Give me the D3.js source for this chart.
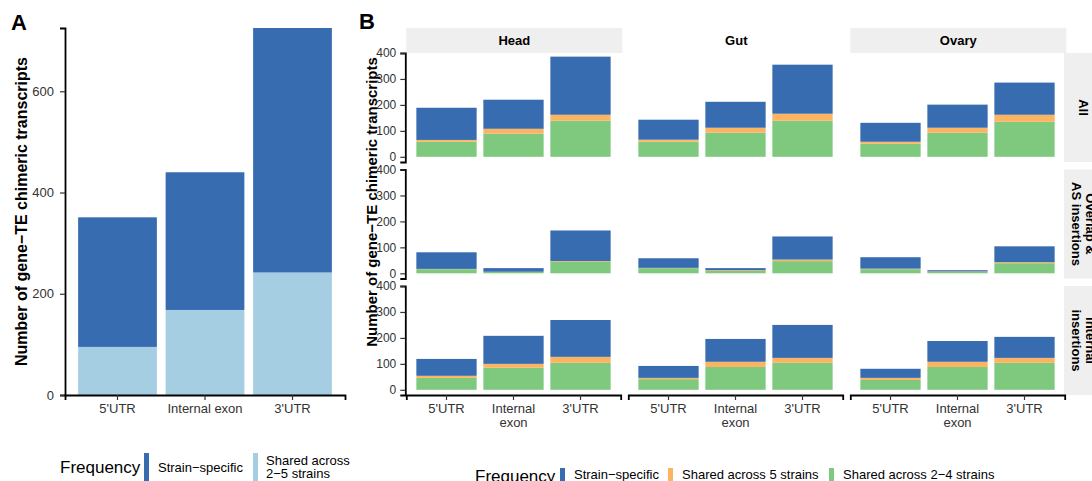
<!DOCTYPE html>
<html>
<head>
<meta charset="utf-8">
<script src="https://cdn.jsdelivr.net/npm/d3@7"></script>
<style>
  body { margin: 0; background: #fff; }
  svg { font-family: "Liberation Sans", Arial, sans-serif; }
</style>
</head>
<body>
<svg id="chart" width="1092" height="481"></svg>
<script>
// categories
const regions = ["5'UTR", "Internal exon", "3'UTR"];
const tissues = ["Head", "Gut", "Ovary"];
const insertionTypes = ["All", "Overlap &\nAS insertions", "Internal\ninsertions"];
const yTicksA = [0, 200, 400, 600];
const yTicksB = [0, 100, 200, 300, 400];

// panel A values (per region)
const aStrainSpecific = [256, 272, 483];
const aShared = [95, 168, 242];

// panel B values: [insertion type][tissue][region]
const bStrainSpecific = [
  [[124, 112, 224], [77, 100, 189], [73, 89, 124]],
  [[64, 14, 118], [37, 8, 89], [44, 5, 61]],
  [[65, 108, 142], [46, 88, 127], [35, 80, 81]]
];
const bShared5 = [
  [[7, 19, 23], [8, 19, 27], [8, 19, 27]],
  [[1, 1, 3], [1, 3, 6], [2, 2, 4]],
  [[8, 15, 23], [5, 20, 19], [8, 20, 19]]
];
const bShared24 = [
  [[58, 89, 139], [58, 93, 139], [50, 93, 135]],
  [[16, 5, 44], [20, 9, 47], [16, 5, 39]],
  [[46, 85, 104], [41, 88, 104], [38, 88, 104]]
];

const colA = { strain: "#386CB0", shared: "#A6CEE3" };
const colB = { strain: "#386CB0", shared5: "#FDB462", shared24: "#7FC97F" };

const svg = d3.select("#chart");

function styleAxis(size) {
  return g => {
    g.selectAll(".domain").attr("stroke", "#000").attr("stroke-width", 1.8);
    g.selectAll(".tick line").attr("stroke", "#333").attr("stroke-width", 1.2);
    g.selectAll(".tick text").attr("fill", "#333").style("font-size", size + "px");
  };
}

// ---------- Panel A ----------
const xA = d3.scaleBand().domain(regions).range([65, 345]).paddingInner(0.1).paddingOuter(0.15);
const yA = d3.scaleLinear().domain([0, 725]).range([395, 28]);

const stackA = d3.stack().keys(["shared", "strain"])(
  regions.map((r, i) => ({ region: r, shared: aShared[i], strain: aStrainSpecific[i] }))
);

svg.append("g").selectAll("g")
  .data(stackA)
  .join("g")
  .attr("fill", d => colA[d.key])
  .selectAll("rect")
  .data(d => d)
  .join("rect")
  .attr("x", d => xA(d.data.region))
  .attr("width", xA.bandwidth())
  .attr("y", d => yA(d[1]))
  .attr("height", d => yA(d[0]) - yA(d[1]));

svg.append("g")
  .attr("transform", "translate(65,0)")
  .call(d3.axisLeft(yA).tickValues(yTicksA).tickSizeOuter(0).tickSize(5).tickPadding(6))
  .call(styleAxis(13));

svg.append("g")
  .attr("transform", "translate(0,395)")
  .call(d3.axisBottom(xA).tickSizeOuter(0).tickSize(5).tickPadding(4))
  .call(styleAxis(13));

svg.append("text")
  .attr("transform", "translate(27,211.5) rotate(-90)")
  .attr("text-anchor", "middle")
  .style("font-size", "16px").style("font-weight", "bold")
  .text("Number of gene\u2212TE chimeric transcripts");

svg.append("text").attr("x", 11).attr("y", 30)
  .style("font-size", "22px").style("font-weight", "bold").text("A");

// legend A
svg.append("text").attr("x", 60).attr("y", 473).style("font-size", "17px").text("Frequency");
svg.append("rect").attr("x", 144).attr("y", 453).attr("width", 5).attr("height", 30).attr("fill", colA.strain);
svg.append("text").attr("x", 158).attr("y", 472).style("font-size", "13px").text("Strain\u2212specific");
svg.append("rect").attr("x", 253).attr("y", 453).attr("width", 5).attr("height", 30).attr("fill", colA.shared);
svg.append("text").attr("x", 266).attr("y", 465).style("font-size", "13px").text("Shared across");
svg.append("text").attr("x", 266).attr("y", 478).style("font-size", "13px").text("2\u22125 strains");

// ---------- Panel B ----------
const colX0 = [406.3, 628.3, 850.3];
const panelW = 214.4;
const rowTop = [53, 169.5, 286];
const panelH = 109;

svg.append("text").attr("x", 359).attr("y", 29)
  .style("font-size", "22px").style("font-weight", "bold").text("B");

// top strips
tissues.forEach((t, c) => {
  if (t !== "Gut") {
    svg.append("rect").attr("x", colX0[c]).attr("y", 28).attr("width", 216).attr("height", 25)
      .attr("fill", "#EFEFEF");
  }
  svg.append("text").attr("x", colX0[c] + 108).attr("y", 45)
    .attr("text-anchor", "middle")
    .style("font-size", "13px").style("font-weight", "bold").text(t);
});

// right strips
insertionTypes.forEach((lab, r) => {
  svg.append("rect").attr("x", 1064).attr("y", rowTop[r]).attr("width", 40).attr("height", panelH)
    .attr("fill", "#EFEFEF");
  const lines = lab.split("\n");
  const g = svg.append("g")
    .attr("transform", `translate(1083,${rowTop[r] + panelH / 2}) rotate(90)`);
  lines.forEach((ln, i) => {
    g.append("text")
      .attr("x", 0)
      .attr("y", (i - (lines.length - 1) / 2) * 14)
      .attr("text-anchor", "middle")
      .attr("dominant-baseline", "central")
      .style("font-size", "13px").style("font-weight", "bold")
      .text(ln);
  });
});

insertionTypes.forEach((_, r) => {
  const y = d3.scaleLinear().domain([-20, 400]).range([rowTop[r] + panelH, rowTop[r]]);
  tissues.forEach((_, c) => {
    const x = d3.scaleBand().domain(regions).range([colX0[c], colX0[c] + panelW])
      .paddingInner(0.1).paddingOuter(0.15);
    const rows = regions.map((reg, k) => ({
      region: reg,
      shared24: bShared24[r][c][k],
      shared5: bShared5[r][c][k],
      strain: bStrainSpecific[r][c][k]
    }));
    const stacked = d3.stack().keys(["shared24", "shared5", "strain"])(rows);

    svg.append("g").selectAll("g")
      .data(stacked)
      .join("g")
      .attr("fill", d => colB[d.key])
      .selectAll("rect")
      .data(d => d)
      .join("rect")
      .attr("x", d => x(d.data.region))
      .attr("width", x.bandwidth())
      .attr("y", d => y(d[1]))
      .attr("height", d => y(d[0]) - y(d[1]));

    if (c === 0) {
      svg.append("g")
        .attr("transform", `translate(${colX0[0] - 1},0)`)
        .call(d3.axisLeft(y).tickValues(yTicksB).tickSizeOuter(0).tickSize(5).tickPadding(4))
        .call(styleAxis(12));
    }
    if (r === 2) {
      const ax = svg.append("g")
        .attr("transform", `translate(0,${rowTop[r] + panelH})`)
        .call(d3.axisBottom(x).tickSizeOuter(0).tickSize(5).tickPadding(4))
        .call(styleAxis(13));
      ax.selectAll(".tick text").each(function (d) {
        const words = d.split(" ");
        const t = d3.select(this).text(null);
        words.forEach((w, i) => {
          t.append("tspan").attr("x", 0).attr("dy", i === 0 ? "0.71em" : "1.05em").text(w);
        });
      });
    }
  });
});

svg.append("text")
  .attr("transform", "translate(377,202) rotate(-90)")
  .attr("text-anchor", "middle")
  .style("font-size", "15px").style("font-weight", "bold")
  .text("Number of gene\u2212TE chimeric transcripts");

// legend B
svg.append("text").attr("x", 475).attr("y", 482).style("font-size", "17px").text("Frequency");
const legB = [
  { key: "strain", label: "Strain\u2212specific", x: 560 },
  { key: "shared5", label: "Shared across 5 strains", x: 668 },
  { key: "shared24", label: "Shared across 2\u22124 strains", x: 829 }
];
legB.forEach(d => {
  svg.append("rect").attr("x", d.x).attr("y", 468).attr("width", 5).attr("height", 20).attr("fill", colB[d.key]);
  svg.append("text").attr("x", d.x + 14).attr("y", 479).style("font-size", "13px").text(d.label);
});
</script>
</body>
</html>
